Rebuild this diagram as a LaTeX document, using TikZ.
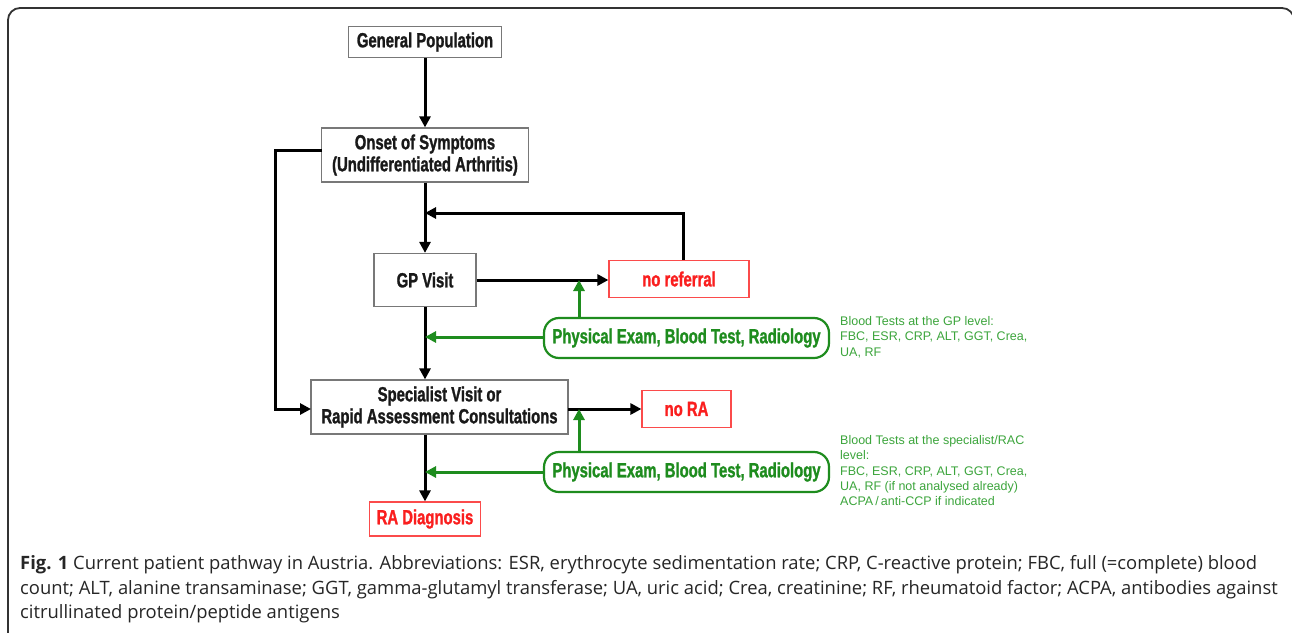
\documentclass[tikz,border=0pt]{standalone}
\usepackage{fontspec}
\setmainfont{Liberation Sans}
\newfontfamily\condb[FakeStretch=0.725,FakeBold=1.2]{Liberation Sans}
\newfontfamily\capfont{Open Sans}
\usetikzlibrary{arrows.meta}
\definecolor{dgreen}{RGB}{30,140,30}
\definecolor{lgreen}{RGB}{60,165,60}
\definecolor{rred}{RGB}{250,30,30}
\definecolor{bgray}{RGB}{120,120,120}
\begin{document}
\begin{tikzpicture}[x=1pt,y=-1pt,
  box/.style={draw=bgray,line width=1.2pt,fill=white,inner sep=0pt,align=center,
    font=\condb\bfseries\fontsize{20.5}{22}\selectfont,text=black!90},
  redbox/.style={draw=rred!80,line width=1.2pt,fill=white,inner sep=0pt,align=center,
    font=\condb\bfseries\fontsize{20.5}{22}\selectfont,text=rred},
  pill/.style={draw=dgreen,line width=2.2pt,rounded corners=15pt,fill=white,inner sep=0pt,
    font=\condb\bfseries\fontsize{20.5}{22}\selectfont,text=dgreen},
  side/.style={anchor=north west,align=left,inner sep=0pt,text=lgreen,
    font=\fontsize{12.5}{15.4}\selectfont},
  arr/.style={line width=3pt,-{Triangle[length=11pt,width=11pt]}},
  garr/.style={line width=3pt,dgreen,-{Triangle[length=11pt,width=11pt]}},
  capline/.style={anchor=base west,inner sep=0pt,font=\capfont\fontsize{18.4}{24}\selectfont,text=black!85}
]
\useasboundingbox (0,0) rectangle (1292,632);
\fill[white] (0,0) rectangle (1292,632);
% outer frame
\draw[line width=1.8pt,black!80,rounded corners=12pt] (8,660) -- (8,8) -- (1294,8) -- (1294,660);

% nodes
\node[box,minimum width=153pt,minimum height=31pt] (gen) at (425,42) {General Population};
\node[box,minimum width=207pt,minimum height=54pt] (onset) at (425,155) {Onset of Symptoms\\(Undifferentiated Arthritis)};
\node[box,minimum width=102pt,minimum height=53pt] (gp) at (425,280) {GP Visit};
\node[box,minimum width=257pt,minimum height=54pt] (spec) at (439.5,407) {Specialist Visit or\\Rapid Assessment Consultations};
\node[redbox,minimum width=111pt,minimum height=34pt] (ra) at (425,519) {RA Diagnosis};
\node[redbox,minimum width=140pt,minimum height=37pt] (noref) at (679,279) {no referral};
\node[redbox,minimum width=89pt,minimum height=37pt] (nora) at (686.5,409) {no RA};
\node[pill,minimum width=285pt,minimum height=40pt] (pe1) at (686.5,338) {Physical Exam, Blood Test, Radiology};
\node[pill,minimum width=285pt,minimum height=40pt] (pe2) at (686.5,472) {Physical Exam, Blood Test, Radiology};

\node[side] (t1) at (840,316) {Blood Tests at the GP level:\\FBC, ESR, CRP, ALT, GGT, Crea,\\UA, RF};
\node[side] (t2) at (840,435) {Blood Tests at the specialist/RAC\\level:\\FBC, ESR, CRP, ALT, GGT, Crea,\\UA, RF (if not analysed already)\\ACPA\,/\,anti-CCP if indicated};

% coordinates
\coordinate (j1) at (425,213);
\coordinate (j2) at (425,337);
\coordinate (j3) at (425,472);
\coordinate (g1) at (579,280);
\coordinate (g2) at (579,409);
\coordinate (s1) at (568,409);
\coordinate (l1) at (322,150);
\coordinate (l2) at (311,409);

% black connectors
\draw[arr] (gen.south) -- (onset.north);
\draw[arr] (onset.south) -- (gp.north);
\draw[arr] (gp.south) -- (gp.south |- spec.north);
\draw[arr] (gp.south |- spec.south) -- (ra.north);
\draw[arr] (gp.east) -- (noref.west |- gp.east);
\draw[arr] (s1) -- (nora.west);
\draw[arr] (noref.north) ++(4,0) |- (j1);
\draw[arr] (l1) -| (275,409) -- (l2);

% green connectors
\draw[garr] (pe1.west |- j2) -- (j2);
\draw[garr] (pe2.west) -- (j3);
\draw[garr] (pe1.north -| g1) -- (g1);
\draw[garr] (pe2.north -| g2) -- (g2);

% caption
\node[capline] (c1) at (20,569) {\textbf{Fig. 1} Current patient pathway in Austria. Abbreviations: ESR, erythrocyte sedimentation rate; CRP, C-reactive protein; FBC, full (=complete) blood};
\node[capline] (c2) at (20,594) {count; ALT, alanine transaminase; GGT, gamma-glutamyl transferase; UA, uric acid; Crea, creatinine; RF, rheumatoid factor; ACPA, antibodies against};
\node[capline] (c3) at (20,618) {citrullinated protein/peptide antigens};
\end{tikzpicture}
\end{document}
